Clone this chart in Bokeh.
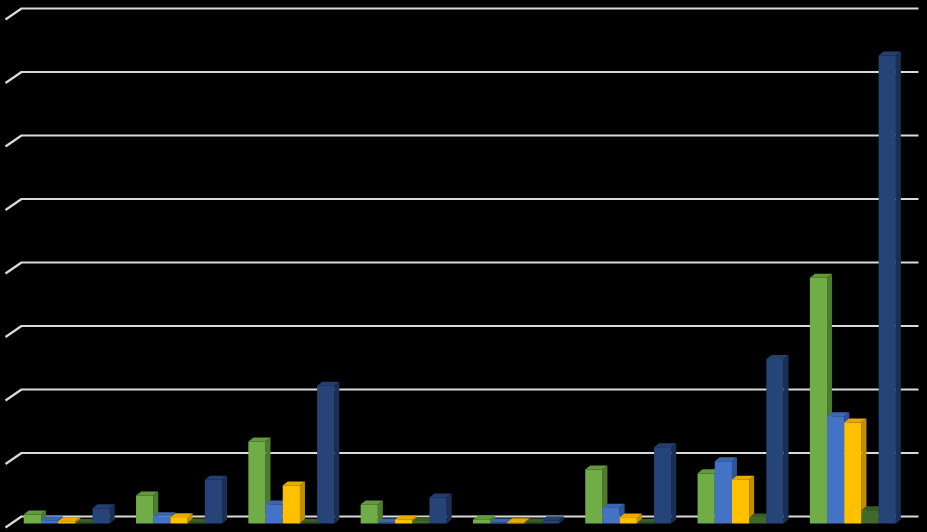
from bokeh.plotting import figure
from bokeh.models import Range1d
from bokeh.embed import file_html
from bokeh.resources import INLINE

# ---- data (grid step = 10 units) ----
groups = ["1", "2", "3", "4", "5", "6", "7", "8"]
series_a = [1.4, 4.4, 12.9, 3.0, 0.6, 8.5, 7.9, 38.7]    # green
series_b = [0.5, 1.15, 3.0, 0.15, 0.15, 2.5, 9.8, 16.9]  # blue
series_c = [0.35, 1.0, 6.0, 0.6, 0.2, 0.95, 6.9, 15.9]   # yellow
series_d = [0.1, 0.15, 0.1, 0.4, 0.15, 0.1, 0.95, 2.1]   # dark green
series_e = [2.4, 6.9, 21.7, 4.1, 0.5, 12.0, 25.9, 73.7]  # dark blue
grid_values = [0, 10, 20, 30, 40, 50, 60, 70, 80]

series = [series_a, series_b, series_c, series_d, series_e]
fronts = ["#70AD47", "#4472C4", "#FFC000", "#43682B", "#264478"]
sides = ["#4E7A31", "#2F5597", "#BF9000", "#2E481E", "#1A2F54"]
tops = ["#62993D", "#3D66B0", "#E6AD00", "#3A5C25", "#223F70"]

W, H = 927, 532
# pixel scale constants (layout)
gx0, gdx = 66.25, 112.3      # group centre offset and spacing in px (plot frame)
ppu = 6.35                   # px per value unit
base_px = 523.0              # px from top of frame where value 0 (front) sits

x_start = (0 - gx0) / gdx
x_end = (W - gx0) / gdx
y_end = base_px / ppu
y_start = (base_px - H) / ppu

p = figure(width=W, height=H, output_backend="svg", toolbar_location=None,
           x_range=Range1d(x_start, x_end), y_range=Range1d(y_start, y_end),
           x_axis_location=None, y_axis_location=None, min_border=0)
p.background_fill_color = "#000000"
p.border_fill_color = "#000000"
p.outline_line_color = None
p.grid.visible = False

bw = 17.2 / gdx
ddx = 5 / gdx
ddy = 4 / ppu

# gridlines (back wall + side wall diagonal)
back_dy = 7 / ppu
wall_left = (21 - gx0) / gdx
wall_right = (918 - gx0) / gdx
diag_left = (5 - gx0) / gdx
diag_dy = 11 / ppu
gxs, gys = [], []
for g in grid_values:
    yb = g + back_dy
    gxs.append([diag_left, wall_left, wall_right])
    gys.append([yb - diag_dy, yb, yb])
p.multi_line(gxs, gys, line_color="#D9D9D9", line_width=2.2)

n = len(series)
for j, vals in enumerate(series):
    for i, v in enumerate(vals):
        x0 = i + (j - n / 2) * bw
        x1 = x0 + bw
        # top face
        p.patch([x0, x0 + ddx, x1 + ddx, x1], [v, v + ddy, v + ddy, v],
                fill_color=tops[j], line_color=None)
        # side face
        p.patch([x1, x1 + ddx, x1 + ddx, x1], [0, ddy, v + ddy, v],
                fill_color=sides[j], line_color=None)
        # front face
        p.quad(left=x0, right=x1, bottom=0, top=v,
               fill_color=fronts[j], line_color=None)

html = file_html(p, INLINE)
html = html.replace("</head>", "<style>html,body{background:#000000;margin:0;padding:0;overflow:hidden;}</style></head>", 1)
open("out.html", "w").write(html)
